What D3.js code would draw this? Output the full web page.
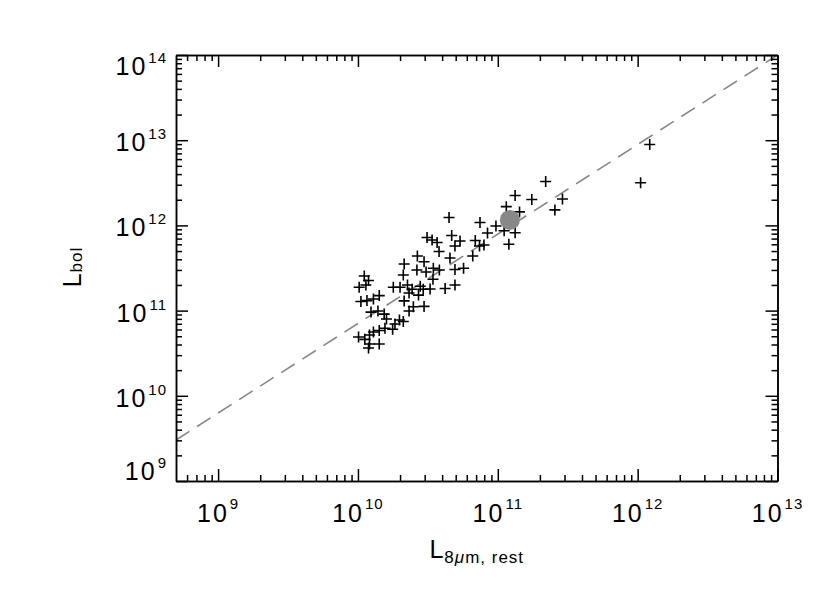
<!DOCTYPE html>
<html><head><meta charset="utf-8">
<script src="https://cdn.jsdelivr.net/npm/d3@7"></script>
<style>
body{margin:0;background:#fff;}
svg{display:block;}
text{font-family:"Liberation Sans",Arial,sans-serif;fill:#000;}
</style></head>
<body><svg id="chart" width="830" height="593"></svg>
<script>
// L_8um,rest values
const l8 = [1.22e12,1.05e12,2.2e11,1.75e11,2.9e11,2.56e11,1.33e11,1.15e11,1.43e11,4.48e10,
  7.46e10,9.7e10,1.11e11,1.33e11,8.44e10,1.2e11,6.9e10,7.4e10,7.96e10,6.62e10,
  2.14e10,2.11e10,2.66e10,2.97e10,3.12e10,3.39e10,3.68e10,4.68e10,5.37e10,4.94e10,
  3.8e10,4.55e10,2.64e10,3.07e10,3.46e10,3.82e10,4.94e10,5.69e10,3.44e10,2.26e10,
  2.44e10,2.79e10,2.93e10,3.28e10,4.2e10,4.94e10,2.71e10,2.14e10,2.49e10,2.97e10,
  2.32e10,1.79e10,2.0e10,2.32e10,
  1.11e10,1.19e10,1.02e10,1.14e10,1.05e10,1.16e10,1.29e10,1.42e10,1.24e10,1.39e10,
  1.54e10,1.6e10,1.98e10,2.11e10,1.84e10,1.77e10,1.56e10,1.42e10,1.29e10,1.21e10,
  1.01e10,1.12e10,1.21e10,1.42e10,1.19e10];
// L_bol values
const lbol = [8.9e12,3.17e12,3.27e12,2.01e12,2.04e12,1.52e12,2.24e12,1.66e12,1.44e12,1.24e12,
  1.08e12,9.85e11,8.67e11,8.2e11,8.15e11,6.02e11,6.65e11,5.73e11,5.89e11,4.37e11,
  3.52e11,2.62e11,4.37e11,3.75e11,7.21e11,6.74e11,6.3e11,7.61e11,6.56e11,5.73e11,
  4.94e11,4.14e11,3.0e11,2.84e11,3.14e11,3.0e11,3.04e11,3.14e11,2.33e11,2.0e11,
  1.78e11,1.93e11,1.78e11,1.79e11,1.82e11,2.0e11,1.52e11,1.3e11,1.11e11,1.12e11,
  1.61e11,1.88e11,1.88e11,9.9e10,
  2.55e11,2.26e11,1.88e11,2.0e11,1.28e11,1.31e11,1.37e11,1.5e11,9.6e10,9.9e10,
  9.1e10,7.97e10,7.76e10,7.45e10,6.96e10,6.03e10,6.2e10,5.84e10,5.61e10,5.17e10,
  4.9e10,4.6e10,4.06e10,4.06e10,3.64e10];
// highlighted (grey) point
const hiX = [1.22e11];
const hiY = [1.16e12];
// dashed relation line endpoints
const lineX = [5e8, 1e13];
const lineY = [3.03e9, 1e14];
// axes
const xDomain = [5e8, 1e13];
const yDomain = [1e9, 1e14];
const xMajor = [1e9,1e10,1e11,1e12,1e13];
const yMajor = [1e9,1e10,1e11,1e12,1e13,1e14];
const xTickExp = ["9","10","11","12","13"];
const yTickExp = ["9","10","11","12","13","14"];

const svg = d3.select("#chart");
const L = 176, R = 777.5, T = 55, B = 481;
const x = d3.scaleLog().domain(xDomain).range([L, R]);
const y = d3.scaleLog().domain(yDomain).range([B, T]);

function minors(dom){
  const out=[];
  for(let e=Math.floor(Math.log10(dom[0])); e<=Math.ceil(Math.log10(dom[1])); e++){
    for(let m=2;m<=9;m++){const v=m*Math.pow(10,e); if(v>dom[0]*1.0001 && v<dom[1]*0.9999) out.push(v);}
  }
  return out;
}
const xMinor = minors(xDomain), yMinor = minors(yDomain);

// dashed line
svg.append("clipPath").attr("id","clip").append("rect")
  .attr("x",L).attr("y",T).attr("width",R-L).attr("height",B-T);
svg.append("path")
  .attr("clip-path","url(#clip)")
  .attr("d", d3.line().x(d=>x(d[0])).y(d=>y(d[1]))(lineX.map((v,i)=>[v,lineY[i]])))
  .attr("fill","none").attr("stroke","#888").attr("stroke-width",1.6)
  .attr("stroke-dasharray","16,9");

// crosses
const pts = l8.map((v,i)=>[v,lbol[i]]);
const h = 5.5;
svg.append("g").selectAll("path").data(pts).join("path")
  .attr("d", d=>{const cx=x(d[0]), cy=y(d[1]); return `M${cx-h},${cy}H${cx+h}M${cx},${cy-h}V${cy+h}`;})
  .attr("stroke","#000").attr("stroke-width",1.6).attr("fill","none");

// highlighted circle
svg.append("g").selectAll("circle").data(hiX.map((v,i)=>[v,hiY[i]])).join("circle")
  .attr("cx",d=>x(d[0])).attr("cy",d=>y(d[1])).attr("r",10).attr("fill","#888");

// axes with inward ticks
function styleAxis(g){
  g.selectAll("path.domain").attr("stroke","#000").attr("stroke-width",1.5);
  g.selectAll("line").attr("stroke","#000").attr("stroke-width",1.5);
  g.selectAll("text").remove();
}
const axes = [
  [d3.axisBottom(x), `translate(0,${B})`, xMajor, xMinor],
  [d3.axisTop(x), `translate(0,${T})`, xMajor, xMinor],
  [d3.axisLeft(y), `translate(${L},0)`, yMajor, yMinor],
  [d3.axisRight(y), `translate(${R},0)`, yMajor, yMinor]
];
axes.forEach(([ax,tr,maj,mn])=>{
  svg.append("g").attr("transform",tr)
    .call(ax.tickValues(mn).tickSize(-6).tickSizeOuter(0).tickFormat(""))
    .call(styleAxis);
  svg.append("g").attr("transform",tr)
    .call(ax.tickValues(maj).tickSize(-12).tickSizeOuter(0).tickFormat(""))
    .call(styleAxis);
});

// tick labels
xMajor.forEach((v,i)=>{
  const t = svg.append("text").attr("x",x(v)).attr("y",B+41)
    .attr("text-anchor","middle").attr("font-size",25);
  t.append("tspan").attr("letter-spacing",2).text("10");
  t.append("tspan").attr("font-size",15).attr("dx",1).attr("dy",-13).attr("letter-spacing",1).text(xTickExp[i]);
});
yMajor.forEach((v,i)=>{
  let off = 11;
  if(i===0) off = -1;
  if(i===yMajor.length-1) off = 20;
  const t = svg.append("text").attr("x",167).attr("y",y(v)+off)
    .attr("text-anchor","end").attr("font-size",25);
  t.append("tspan").attr("letter-spacing",2).text("10");
  t.append("tspan").attr("font-size",15).attr("dx",1).attr("dy",-12).attr("letter-spacing",1).text(yTickExp[i]);
});

// axis titles
const xt = svg.append("text").attr("x",(L+R)/2).attr("y",558)
  .attr("text-anchor","middle").attr("font-size",25);
xt.append("tspan").text("L");
xt.append("tspan").attr("font-size",17).attr("dy",5).attr("dx",1).attr("letter-spacing",1).html('8<tspan font-style="italic">μ</tspan>m, rest');

const yt = svg.append("text").attr("transform",`translate(81,267) rotate(-90)`)
  .attr("text-anchor","middle").attr("font-size",25);
yt.append("tspan").text("L");
yt.append("tspan").attr("font-size",17).attr("dy",1).attr("dx",1).attr("letter-spacing",1).text("bol");
</script></body></html>
